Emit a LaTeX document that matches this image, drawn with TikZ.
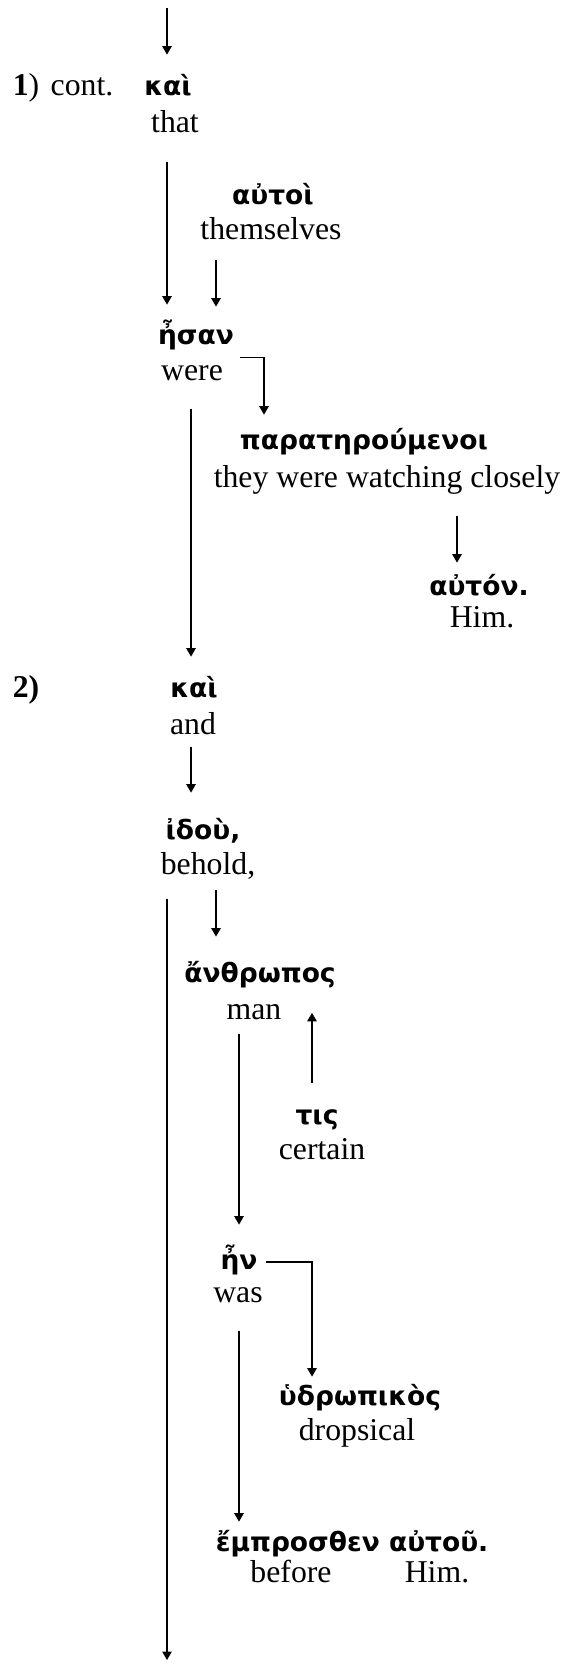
\documentclass[tikz,border=0pt]{standalone}
\usepackage{fontspec}
\setmainfont{Liberation Serif}
\newfontfamily\grkfont{DejaVu Sans}
\usetikzlibrary{arrows.meta}

\tikzset{
	grk/.style={font=\grkfont\bfseries\fontsize{10.6}{13}\selectfont, inner sep=0pt, text height=8.2pt, text depth=2.5pt},
	eng/.style={font=\fontsize{12.7}{15}\selectfont, inner sep=0pt, text height=9pt, text depth=3pt},
	arr/.style={line width=0.5pt, -{Triangle[length=3.4pt,width=3.8pt]}}
}

\begin{document}
\begin{tikzpicture}[x=0.4pt,y=-0.4pt]
	\useasboundingbox (0,0) rectangle (566,1664);
	
	% columns of the arrows
	\coordinate (colA) at (167,0);
	\coordinate (colB) at (191,0);
	\coordinate (colC) at (216,0);
	\coordinate (colD) at (239,0);
	\coordinate (colE) at (264,0);
	\coordinate (colF) at (312,0);
	\coordinate (colG) at (457,0);
	\coordinate (entry) at (167,8);
	\coordinate (exit) at (167,1660);
	
	% 1) cont.
	\node[eng] (one) at (26,88) {\textbf{1})};
	\node[eng] (cont) at (82,88) {cont.};
	\node[grk] (kaiA) at (168,88) {καὶ};
	\node[eng] (thatA) at (175,125) {that};
	\node[grk] (autoi) at (273,197) {αὐτοὶ};
	\node[eng] (themselves) at (271,232) {themselves};
	\node[grk] (esan) at (196,337) {ἦσαν};
	\node[eng] (were) at (192,373) {were};
	\node[grk] (parat) at (364,442) {παρατηρούμενοι};
	\node[eng] (watching) at (387,480) {they were watching closely};
	\node[grk] (auton) at (479,588) {αὐτόν.};
	\node[eng] (himA) at (482,620) {Him.};
	
	% 2)
	\node[eng] (two) at (26,690) {\textbf{2)}};
	\node[grk] (kaiB) at (194,690) {καὶ};
	\node[eng] (andB) at (193,727) {and};
	\node[grk] (idou) at (203,832) {ἰδοὺ,};
	\node[eng] (behold) at (208,867) {behold,};
	\node[grk] (anthropos) at (260,975) {ἄνθρωπος};
	\node[eng] (man) at (254,1012) {man};
	\node[grk] (tis) at (317,1117) {τις};
	\node[eng] (certain) at (322,1152) {certain};
	\node[grk] (en) at (239,1262) {ἦν};
	\node[eng] (was) at (238,1295) {was};
	\node[grk] (hydro) at (360,1398) {ὑδρωπικὸς};
	\node[eng] (dropsical) at (357,1433) {dropsical};
	\node[grk] (emp) at (352,1544) {ἔμπροσθεν αὐτοῦ.};
	\node[eng] (before) at (291,1575) {before};
	\node[eng] (himB) at (437,1575) {Him.};
	
	\draw[arr, shorten >=7.8pt] (entry) -- (entry |- kaiA.north);
	\draw[arr, shorten <=8.8pt, shorten >=7.4pt] (thatA.south -| colA) -- (esan.north -| colA);
	\draw[arr, shorten <=5.2pt, shorten >=6.6pt] (themselves.south -| colC) -- (esan.north -| colC);
	\draw[arr, shorten <=6.6pt, shorten >=5.4pt] (were.north east) -| (parat.north -| colE);
	\draw[arr, shorten <=8pt, shorten >=4.6pt] (watching.south -| colG) -- (auton.north -| colG);
	\draw[arr, shorten <=8pt, shorten >=7.8pt] (were.south -| colB) -- (kaiB.north -| colB);
	
	\draw[arr, shorten <=1.6pt, shorten >=10.2pt] (andB.south -| colB) -- (idou.north -| colB);
	\draw[arr, shorten <=6.4pt] (behold.south -| colA) -- (exit);
	\draw[arr, shorten <=2.8pt, shorten >=9.8pt] (behold.south -| colC) -- (anthropos.north -| colC);
	\draw[arr, shorten <=8.2pt, shorten >=9.6pt] (tis.north -| colF) -- (anthropos.south -| colF);
	\draw[arr, shorten <=2.4pt, shorten >=9.4pt] (man.south -| colD) -- (en.north -| colD);
	\draw[arr, shorten <=3.4pt, shorten >=3pt] (en.east) -| (hydro.north -| colF);
	\draw[arr, shorten <=8pt, shorten >=3.4pt] (was.south -| colD) -- (emp.north -| colD);
\end{tikzpicture}
\end{document}
